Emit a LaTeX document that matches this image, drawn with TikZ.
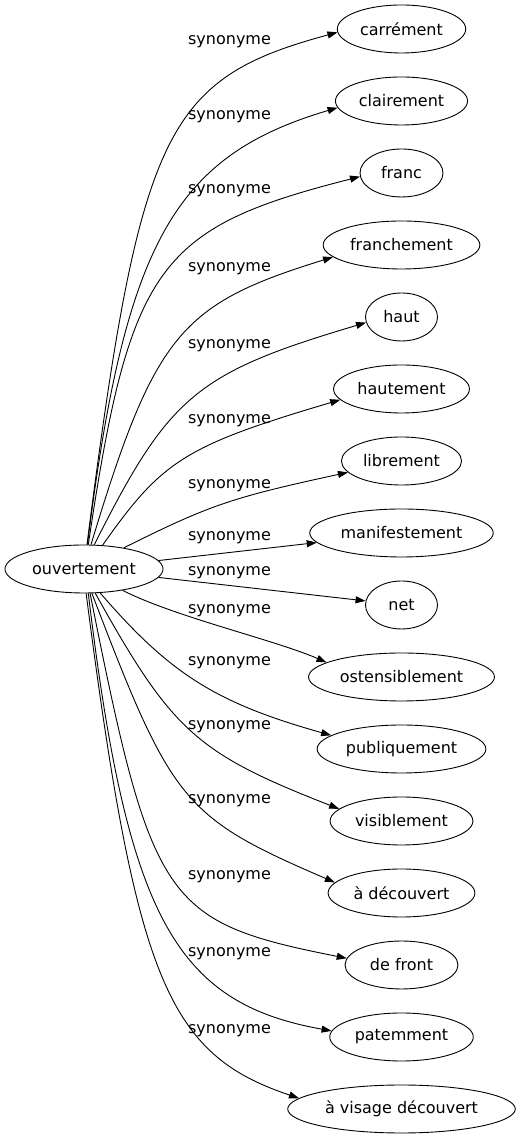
\documentclass[tikz,border=0pt]{standalone}
\usepackage{fontspec}
\setmainfont{DejaVu Sans}
\usetikzlibrary{positioning,shapes.geometric,arrows.meta}

\begin{document}
\begin{tikzpicture}[x=1pt,y=1pt,node distance=72pt,on grid,line width=0.9pt,
    >={Triangle[length=10pt,width=7pt]},
    every node/.style={font=\fontsize{16}{19}\selectfont},
    word/.style={ellipse,draw,inner xsep=4pt,minimum width=72pt,minimum height=48pt},
    rel/.style={inner sep=0pt}]
\useasboundingbox (0,0) rectangle (520,1139);

\node[word] (ouvertement) at (84,570) {ouvertement};

\node[word] (carrement) at (401.5,1110) {carrément};
\node[word] (clairement) [below=of carrement] {clairement};
\node[word,minimum width=83pt] (franc) [below=of clairement] {franc};
\node[word] (franchement) [below=of franc] {franchement};
\node[word] (haut) [below=of franchement] {haut};
\node[word] (hautement) [below=of haut] {hautement};
\node[word] (librement) [below=of hautement] {librement};
\node[word] (manifestement) [below=of librement] {manifestement};
\node[word] (net) [below=of manifestement] {net};
\node[word] (ostensiblement) [below=of net] {ostensiblement};
\node[word] (publiquement) [below=of ostensiblement] {publiquement};
\node[word] (visiblement) [below=of publiquement] {visiblement};
\node[word] (adecouvert) [below=of visiblement] {à découvert};
\node[word,minimum width=113pt] (defront) [below=of adecouvert] {de front};
\node[word] (patemment) [below=of defront] {patemment};
\node[word] (avisage) [below=of patemment] {à visage découvert};

% labels
\node[rel] (l1) at (229.5,1097) {synonyme};
\node[rel] (l2) at (229.5,1022) {synonyme};
\node[rel] (l3) at (229.5,948) {synonyme};
\node[rel] (l4) at (229.5,870) {synonyme};
\node[rel] (l5) at (229.5,793) {synonyme};
\node[rel] (l6) at (229.5,718) {synonyme};
\node[rel] (l7) at (229.5,653) {synonyme};
\node[rel] (l8) at (229.5,601) {synonyme};
\node[rel] (l9) at (229.5,566) {synonyme};
\node[rel] (l10) at (229.5,528) {synonyme};
\node[rel] (l11) at (229.5,476) {synonyme};
\node[rel] (l12) at (229.5,412) {synonyme};
\node[rel] (l13) at (229.5,338) {synonyme};
\node[rel] (l14) at (229.5,262) {synonyme};
\node[rel] (l15) at (229.5,185) {synonyme};
\node[rel] (l16) at (229.5,108) {synonyme};

\draw[->] (ouvertement.83) .. controls (140,1009) and (165,1060) .. (carrement.183);
\draw[->] (ouvertement.82) .. controls (125,896) and (174,983) .. (clairement.186);
\draw[->] (ouvertement.80) .. controls (130,874) and (158,911) .. (franc.185);
\draw[->] (ouvertement.74) .. controls (155,806) and (181,835) .. (franchement.190);
\draw[->] (ouvertement.67) .. controls (169,743) and (196,766) .. (haut.189);
\draw[->] (ouvertement.52) .. controls (162,678) and (184,693) .. (hautement.190);
\draw[->] (ouvertement.28) .. controls (208,633) and (229,641) .. (librement.192);
\draw[->] (ouvertement) -- (manifestement);
\draw[->] (ouvertement) -- (net);
\draw[->] (ouvertement.331) .. controls (175,522) and (275,499) .. (ostensiblement.169);
\draw[->] (ouvertement.304) .. controls (170,465) and (216,436) .. (publiquement.169);
\draw[->] (ouvertement.295) .. controls (172,408) and (196,386) .. (visiblement.169);
\draw[->] (ouvertement.288) .. controls (172,336) and (183,322) .. (adecouvert.171);
\draw[->] (ouvertement.284) .. controls (152,235) and (164,217) .. (defront.173);
\draw[->] (ouvertement.280) .. controls (127,223) and (175,136) .. (patemment.175);
\draw[->] (ouvertement.275) .. controls (136,160) and (167,85) .. (avisage.174);
\end{tikzpicture}
\end{document}
